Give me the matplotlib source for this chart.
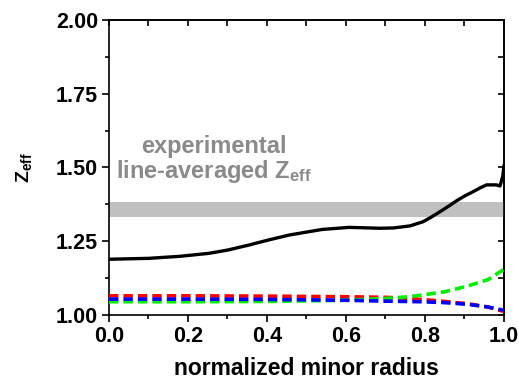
import matplotlib
matplotlib.use("Agg")
import matplotlib.pyplot as plt
from matplotlib.ticker import MultipleLocator, FormatStrFormatter

plt.rcParams['font.family'] = ['Liberation Sans', 'DejaVu Sans']
plt.rcParams['mathtext.fontset'] = 'custom'
plt.rcParams['mathtext.rm'] = 'Liberation Sans:bold'
plt.rcParams['mathtext.bf'] = 'Liberation Sans:bold'
plt.rcParams['mathtext.it'] = 'Liberation Sans:bold'

# Total Zeff profile
r_total = [0.0, 0.1, 0.18, 0.253, 0.3, 0.354, 0.4, 0.456, 0.5, 0.54, 0.608, 0.686,
           0.72, 0.762, 0.795, 0.815, 0.838, 0.86, 0.88, 0.90, 0.922, 0.94, 0.956,
           0.981, 0.99, 0.997, 1.0]
z_total = [1.189, 1.192, 1.199, 1.209, 1.220, 1.237, 1.253, 1.271, 1.281, 1.290,
           1.297, 1.294, 1.295, 1.302, 1.316, 1.331, 1.350, 1.369, 1.387, 1.403,
           1.418, 1.431, 1.441, 1.441, 1.437, 1.470, 1.505]

# Individual model contributions
r_comp = [0.0, 0.2, 0.4, 0.6, 0.7, 0.75, 0.79, 0.85, 0.91, 0.96, 1.0]
z_red = [1.065, 1.065, 1.064, 1.062, 1.060, 1.057, 1.053, 1.046, 1.038, 1.027, 1.012]
z_green = [1.045, 1.045, 1.046, 1.050, 1.056, 1.061, 1.067, 1.079, 1.099, 1.120, 1.155]
z_blue = [1.054, 1.054, 1.053, 1.050, 1.047, 1.046, 1.045, 1.042, 1.036, 1.027, 1.016]

# Experimental line-averaged band
band_low, band_high = 1.333, 1.382

fig = plt.figure(figsize=(5.19, 3.83), dpi=100)
ax = fig.add_axes([0.21, 0.1775, 0.761, 0.7705])

ax.axhspan(band_low, band_high, color='#c0c0c0', lw=0, zorder=1)
ax.text(0.266, 1.525, 'experimental\nline-averaged Z$_{\\mathregular{eff}}$',
        color='#8a8a8a', fontsize=17, fontweight='bold', ha='center', va='center',
        linespacing=1.0, zorder=2)

dash = (0, (2.6, 1.4))
ax.plot(r_comp, z_red, color='#ff0000', lw=2.6, linestyle=dash, zorder=3)
ax.plot(r_comp, z_green, color='#00ee00', lw=2.6, linestyle=dash, zorder=3)
ax.plot(r_comp, z_blue, color='#0000ff', lw=2.6, linestyle=dash, zorder=4)
ax.plot(r_total, z_total, color='black', lw=2.4, zorder=5,
        solid_joinstyle='round')

ax.set_xlim(0, 1.0)
ax.set_ylim(1.0, 2.0)
ax.xaxis.set_major_locator(MultipleLocator(0.2))
ax.xaxis.set_minor_locator(MultipleLocator(0.1))
ax.yaxis.set_major_locator(MultipleLocator(0.25))
ax.yaxis.set_minor_locator(MultipleLocator(0.125))
ax.xaxis.set_major_formatter(FormatStrFormatter('%.1f'))
ax.yaxis.set_major_formatter(FormatStrFormatter('%.2f'))

ax.tick_params(which='both', direction='out', top=False, right=False,
               width=1.2, labelsize=15.5, pad=3)
ax.tick_params(which='major', length=5)
ax.tick_params(which='minor', length=3)
for lab in ax.get_xticklabels() + ax.get_yticklabels():
    lab.set_fontweight('bold')

# inward ticks on the top and right edges
ax_top = ax.secondary_xaxis('top')
ax_top.xaxis.set_major_locator(MultipleLocator(0.1))
ax_top.tick_params(direction='in', length=4, width=1.2, labeltop=False)
ax_right = ax.secondary_yaxis('right')
ax_right.yaxis.set_major_locator(MultipleLocator(0.125))
ax_right.tick_params(direction='in', length=4, width=1.2, labelright=False)
for s in ax.spines.values():
    s.set_linewidth(1.2)
ax_top.spines['top'].set_linewidth(1.2)
ax_right.spines['right'].set_linewidth(1.2)

ax.set_xlabel('normalized minor radius', fontsize=16.5, fontweight='bold', labelpad=7)
ax.set_ylabel('Z$_{\\mathregular{eff}}$', fontsize=14, fontweight='bold', labelpad=16)

fig.savefig('out.png', dpi=100)
